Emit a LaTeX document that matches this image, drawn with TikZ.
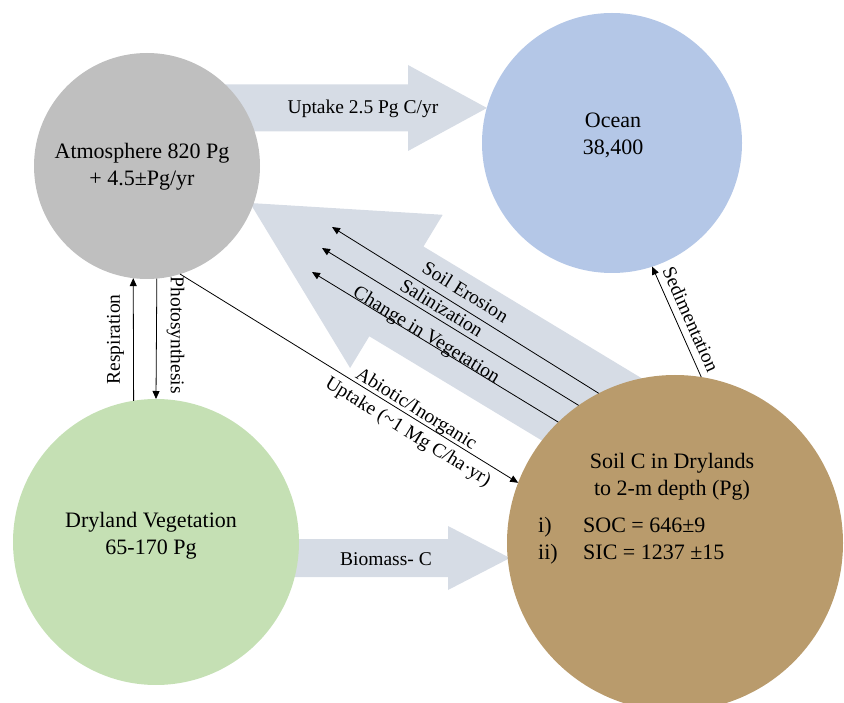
\documentclass[tikz,border=0pt]{standalone}
\usepackage{fontspec}
\setmainfont{Liberation Serif}
\usetikzlibrary{arrows.meta}

\definecolor{atmgray}{RGB}{191,191,191}
\definecolor{oceanblue}{RGB}{180,199,231}
\definecolor{leafgreen}{RGB}{197,224,180}
\definecolor{soilbrown}{RGB}{185,155,108}
\definecolor{flowblue}{RGB}{214,220,229}

\begin{document}
\begin{tikzpicture}[x=1pt,y=-1pt,
  pool/.style={circle, draw=none, inner sep=0pt, outer sep=0pt},
  pooltext/.style={font=\fontsize{22}{26.5}\selectfont, align=center, inner sep=0pt},
  flowtext/.style={font=\fontsize{19.5}{23}\selectfont, inner sep=0pt},
  bigflow/.style={fill=flowblue, draw=none},
  flux/.style={draw=black, line width=0.8pt, -{Triangle[length=8pt,width=7pt]}},
]
\useasboundingbox (0,0) rectangle (844,703);

% broad flows (drawn first, the pools sit on top of them)
\fill[bigflow] (200,84.5) -- (408,84.5) -- (408,65) -- (487,108)
  -- (408,151) -- (408,131.5) -- (200,131.5) -- cycle;
\fill[bigflow] (250,539) -- (448,539) -- (448,526) -- (510,558)
  -- (448,590) -- (448,577) -- (250,577) -- cycle;
\fill[bigflow] (250,203) -- (442.7,214.8) -- (423.5,246.5) -- (706,417.1)
  -- (651.8,506.9) -- (369.3,336.3) -- (350.1,368) -- cycle;

\node[flowtext] (uptakelbl) at (363,109) {Uptake 2.5 Pg C/yr};
\node[flowtext] (biomasslbl) at (386,559) {Biomass- C};

% carbon pools
\node[pool, fill=atmgray, minimum size=226pt] (atm) at (147,166) {};
\node[pool, fill=oceanblue, minimum size=260pt] (ocean) at (612,143) {};
\node[pool, fill=leafgreen, minimum size=286pt] (veg) at (156,542) {};
\node[pool, fill=soilbrown, minimum size=336pt] (soil) at (675,543) {};

\node[pooltext] (atmtxt) at (142,166.5) {Atmosphere 820 Pg\\+ 4.5±Pg/yr};
\node[pooltext] (oceantxt) at (613,135.5) {Ocean\\38,400};
\node[pooltext] (vegtxt) at (151,535.5) {Dryland Vegetation\\65-170 Pg};
\node[pooltext, font=\fontsize{22}{27}\selectfont] (soiltxt) at (672,476.5)
  {Soil C in Drylands\\to 2-m depth (Pg)};
\node[pooltext, anchor=base west, font=\fontsize{22}{27}\selectfont] (soillist) at (538,532)
  {\begin{tabular}[t]{@{}p{45pt}@{}l@{}}i) & SOC = 646±9\\ ii) & SIC = 1237 ±15\end{tabular}};

% free ends of the soil loss fluxes
\coordinate (eroTip) at (332,227);
\coordinate (salTip) at (322,248);
\coordinate (vegTip) at (312,272);

% thin fluxes
\draw[flux] (soil.117) -- node[flowtext, sloped, pos=0.53, anchor=base, yshift=9pt] {Soil Erosion} (eroTip);
\draw[flux] (soil.125.4) -- node[flowtext, sloped, pos=0.557, anchor=base, yshift=5pt] {Salinization} (salTip);
\draw[flux] (soil.134.3) -- node[flowtext, sloped, pos=0.548, anchor=base, yshift=0.5pt] {Change in Vegetation} (vegTip);

\draw[flux] (atm.-73.7) --
  node[flowtext, sloped, pos=0.684, anchor=base, yshift=4pt] {Abiotic/Inorganic}
  node[flowtext, sloped, pos=0.697, anchor=base, yshift=-20pt] {Uptake ({\char"7E}1 Mg C/ha·yr)}
  (soil.159.4);

\draw[flux] (soil.81) -- node[flowtext, sloped, pos=0.47, yshift=14pt] {Sedimentation} (ocean.-72.5);

\draw[flux] (veg.99.3) -- node[flowtext, pos=0.5, xshift=-18pt, rotate=90] {Respiration} (atm.-97.1);
\draw[flux] (atm.-85.4) -- node[flowtext, pos=0.47, xshift=19pt, rotate=-90] {Photosynthesis} (veg.north);
\end{tikzpicture}
\end{document}
